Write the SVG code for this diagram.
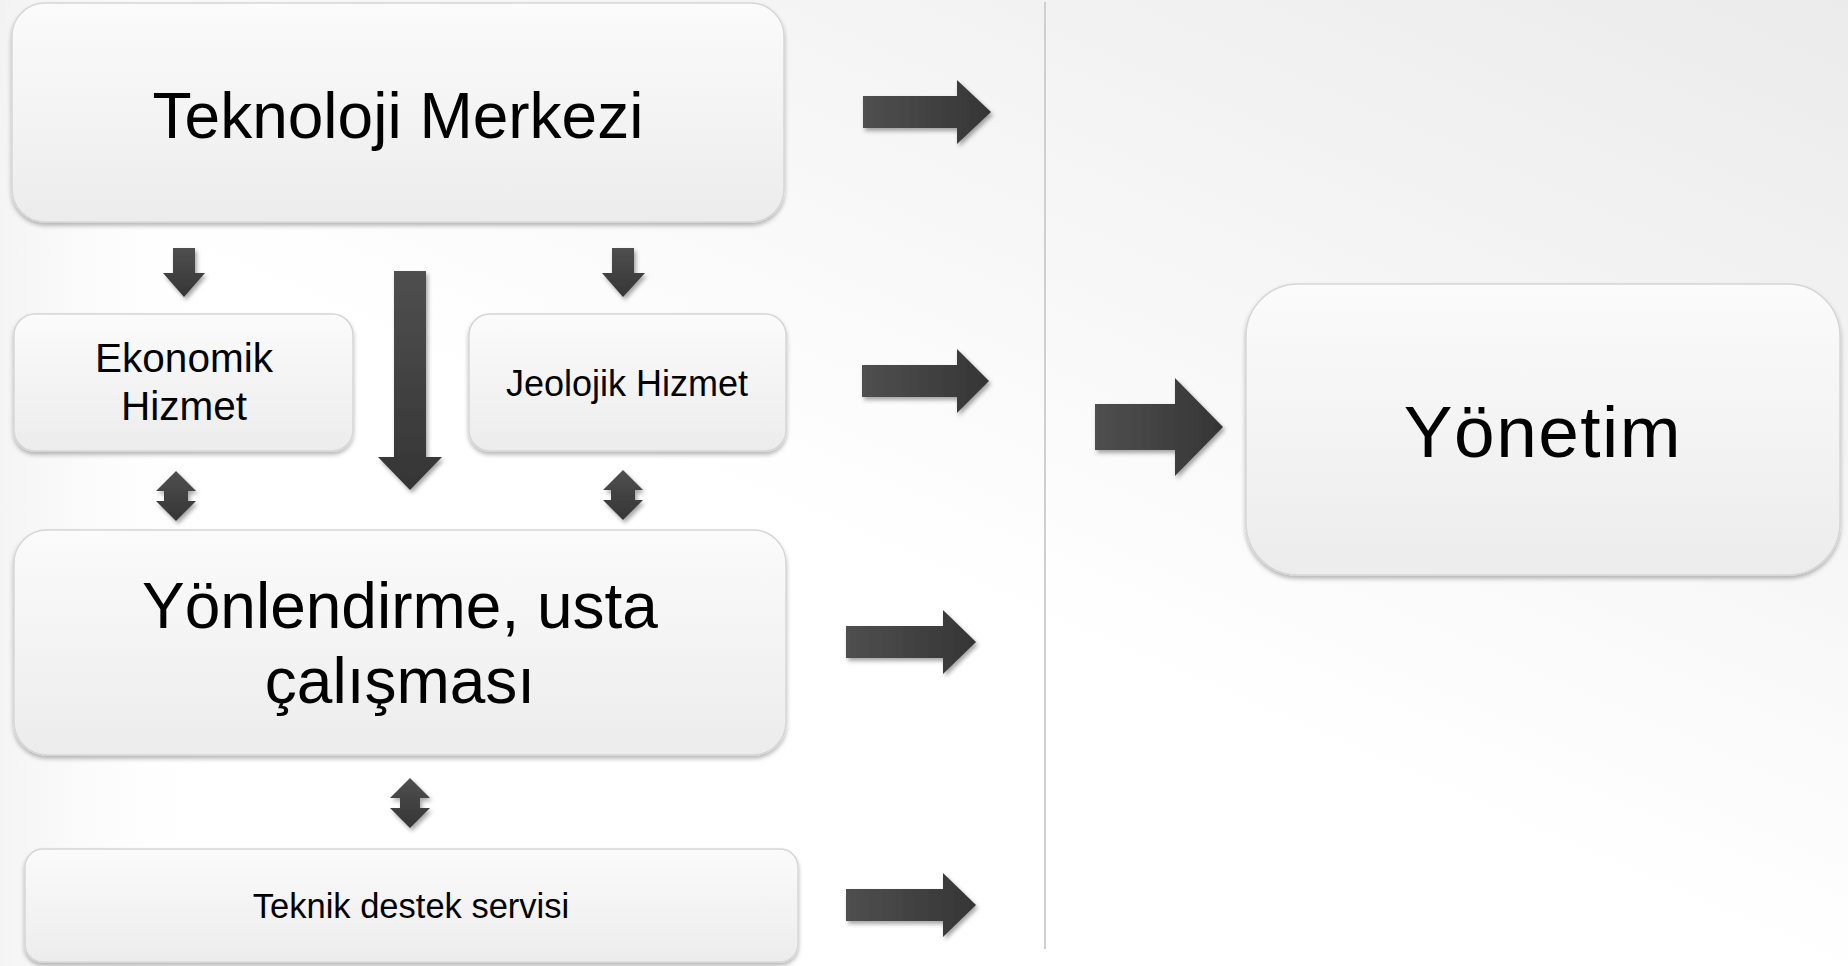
<svg xmlns="http://www.w3.org/2000/svg" width="1848" height="966" viewBox="0 0 1848 966">
<defs>
<linearGradient id="bg" x1="1" y1="0" x2="0.5" y2="0.6">
<stop offset="0" stop-color="#ebebeb"/>
<stop offset="1" stop-color="#ffffff"/>
</linearGradient>
<linearGradient id="bgl" x1="0" y1="0" x2="1" y2="0">
<stop offset="0" stop-color="#ededed" stop-opacity="1"/>
<stop offset="1" stop-color="#ffffff" stop-opacity="0"/>
</linearGradient>
<linearGradient id="box" x1="0" y1="0" x2="0" y2="1">
<stop offset="0" stop-color="#fbfbfb"/>
<stop offset="1" stop-color="#ececec"/>
</linearGradient>
<linearGradient id="arh" x1="0" y1="0" x2="1" y2="0">
<stop offset="0" stop-color="#4f4f4f"/>
<stop offset="1" stop-color="#353535"/>
</linearGradient>
<linearGradient id="arv" x1="0" y1="0" x2="0" y2="1">
<stop offset="0" stop-color="#4f4f4f"/>
<stop offset="1" stop-color="#353535"/>
</linearGradient>
<filter id="bsh" x="-5%" y="-5%" width="110%" height="115%">
<feDropShadow dx="0" dy="3" stdDeviation="2" flood-color="#000" flood-opacity="0.28"/>
</filter>
<filter id="ash" x="-20%" y="-20%" width="150%" height="150%">
<feDropShadow dx="2" dy="3" stdDeviation="2.2" flood-color="#000" flood-opacity="0.35"/>
</filter>
</defs>
<style>
.box{fill:url(#box);stroke:#d6d6d6;stroke-width:1.5;filter:url(#bsh)}
.t{font-family:"Liberation Sans",Arial,sans-serif;fill:#000;text-anchor:middle}
.ah{fill:url(#arh);filter:url(#ash)}
.av{fill:url(#arv);filter:url(#ash)}
</style>
<rect x="0" y="0" width="1848" height="966" fill="url(#bg)"/>
<rect x="0" y="0" width="220" height="966" fill="url(#bgl)" opacity="0.6"/>
<line x1="1045" y1="2" x2="1045" y2="949" stroke="#cfcfcf" stroke-width="2"/>

<g id="teknoloji-merkezi">
<rect class="box" x="12" y="3" width="772" height="219" rx="33"/>
<text class="t" x="398" y="138" font-size="64">Teknoloji Merkezi</text>
</g>
<g id="ekonomik-hizmet">
<rect class="box" x="14" y="314" width="339" height="137" rx="21"/>
<text class="t" x="184" y="372" font-size="40.5">Ekonomik</text>
<text class="t" x="184" y="420" font-size="40.5">Hizmet</text>
</g>
<g id="jeolojik-hizmet">
<rect class="box" x="469" y="314" width="317" height="137" rx="21"/>
<text class="t" x="627" y="396" font-size="36">Jeolojik Hizmet</text>
</g>
<g id="yonlendirme">
<rect class="box" x="14" y="530" width="772" height="225" rx="33"/>
<text class="t" x="400" y="628" font-size="64">Yönlendirme, usta</text>
<text class="t" x="400" y="703" font-size="64">çalışması</text>
</g>
<g id="teknik-destek">
<rect class="box" x="25" y="849" width="773" height="113" rx="18"/>
<text class="t" x="411" y="918" font-size="34.5">Teknik destek servisi</text>
</g>
<g id="yonetim">
<rect class="box" x="1246" y="284" width="594" height="291" rx="52"/>
<text class="t" x="1543" y="457" font-size="73" letter-spacing="1.5">Yönetim</text>
</g>

<g id="connectors">
<polygon class="ah" points="863,96 957,96 957,80 991,112 957,144 957,128 863,128"/>
<polygon class="ah" points="862,365 957,365 957,349 989,381 957,413 957,397 862,397"/>
<polygon class="ah" points="846,626 943,626 943,610 976,642 943,674 943,658 846,658"/>
<polygon class="ah" points="846,889 943,889 943,873 976,905 943,937 943,921 846,921"/>
<polygon class="ah" points="1095,404 1175,404 1175,378 1223,427 1175,476 1175,450 1095,450"/>
<polygon class="av" points="173,248 195,248 195,273 205,273 184,297 163,273 173,273"/>
<polygon class="av" points="612,248 634,248 634,273 645,273 623,297 602,273 612,273"/>
<polygon class="av" points="394,271 426,271 426,457 442,457 410,490 378,457 394,457"/>
<polygon class="av" points="176,471 196,491 188,491 188,501 196,501 176,521 156,501 164,501 164,491 156,491"/>
<polygon class="av" points="623,470 643,490 635,490 635,500 643,500 623,520 603,500 611,500 611,490 603,490"/>
<polygon class="av" points="410,778 430,798 420,798 420,808 430,808 410,828 390,808 400,808 400,798 390,798"/>
</g>
</svg>
